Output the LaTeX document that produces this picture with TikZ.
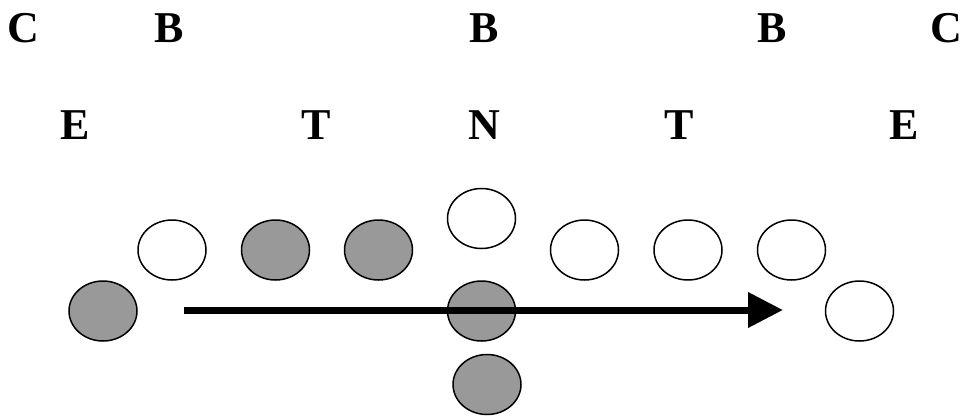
\documentclass[tikz,border=0pt]{standalone}
\usepackage{fontspec}
\setmainfont{Liberation Serif}
\usetikzlibrary{shapes.geometric,arrows.meta}
\definecolor{playergray}{HTML}{999999}
\tikzset{
  lbl/.style={anchor=base, inner sep=0pt, font=\fontsize{44}{44}\selectfont\bfseries},
  plr/.style={ellipse, draw=black, line width=1.5pt, minimum width=68pt, minimum height=60pt, inner sep=0pt},
  off/.style={plr, fill=white},
  def/.style={plr, fill=playergray},
  runarrow/.style={line width=7pt, -{Triangle[length=35pt,width=34pt]}}
}
\begin{document}
\begin{tikzpicture}[x=1pt,y=-1pt]
\useasboundingbox (0,0) rectangle (977,416);
% labels row 1
\node[lbl] (c1) at (23,42) {C};
\node[lbl] (b1) at (169,42) {B};
\node[lbl] (b2) at (484.5,42) {B};
\node[lbl] (b3) at (772,42) {B};
\node[lbl] (c2) at (946.5,42) {C};
% labels row 2
\node[lbl] (e1) at (75,139) {E};
\node[lbl] (t1) at (316.5,139) {T};
\node[lbl] (n1) at (484,139) {N};
\node[lbl] (t2) at (679,139) {T};
\node[lbl] (e2) at (904.5,139) {E};
% players
\node[def] (d1) at (103,311) {};
\node[off] (o1) at (172,250) {};
\node[def] (d2) at (275.5,250) {};
\node[def] (d3) at (378.5,250) {};
\node[off] (o2) at (481.5,218.5) {};
\node[def] (d4) at (481.5,311) {};
\node[def] (d5) at (487,384.5) {};
\node[off] (o3) at (584.5,250) {};
\node[off] (o4) at (688,250) {};
\node[off] (o5) at (791.5,250) {};
\node[off] (o6) at (859.5,311) {};
% arrow
\coordinate (as) at (184,310);
\coordinate (ae) at (783,310);
\draw[runarrow] (as) -- (ae);
\end{tikzpicture}
\end{document}
